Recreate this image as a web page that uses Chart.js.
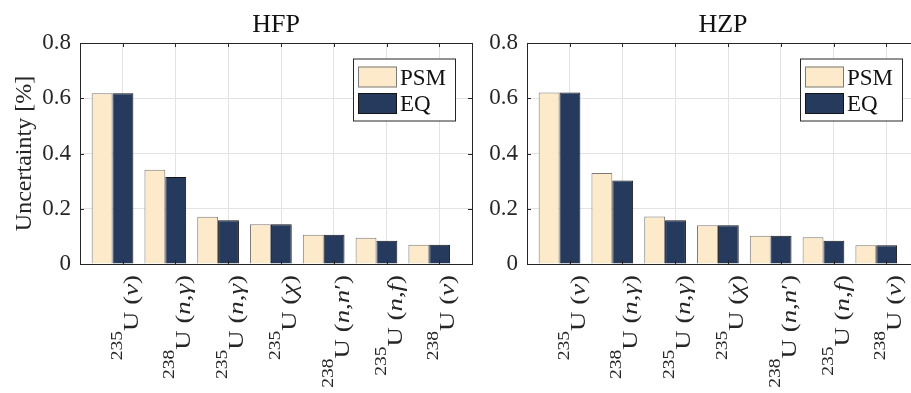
<!DOCTYPE html>
<html>
<head>
<meta charset="utf-8">
<script src="https://cdn.jsdelivr.net/npm/chart.js@4.4.1/dist/chart.umd.min.js"></script>
<style>
  html, body { margin: 0; padding: 0; background: #fff; overflow: hidden; width: 911px; height: 393px; }
  canvas { position: absolute; top: 0; }
  #hfp { left: 0; }
  #hzp { left: 447px; }
  #fontprobe { position: absolute; left: -999px; font-family: "Liberation Serif"; }
</style>
</head>
<body>
<span id="fontprobe">0.8 PSM <i>n</i></span>
<canvas id="hfp" width="480" height="393"></canvas>
<canvas id="hzp" width="480" height="393"></canvas>
<script>
// data
const nuclides = ["235", "238", "235", "235", "238", "235", "238"];
const reactions = ["ν", "n,γ", "n,γ", "χ", "n,n′", "n,f", "ν"];
const hfpPSM = [0.618, 0.341, 0.171, 0.144, 0.106, 0.095, 0.070];
const hfpEQ  = [0.618, 0.315, 0.158, 0.144, 0.106, 0.084, 0.070];
const hzpPSM = [0.621, 0.329, 0.172, 0.140, 0.102, 0.097, 0.068];
const hzpEQ  = [0.621, 0.302, 0.158, 0.140, 0.102, 0.084, 0.068];
const yTicks = [0, 0.2, 0.4, 0.6, 0.8];

const SERIF = '"Liberation Serif", "Times New Roman", Times, serif';
const INK = "#262626";
const GRID = "#e3e3e3";
const TICK_SHIFT = 0.193; // matlab ticks sit a bit right of the bar groups

function drawTickLabel(ctx, x, y, mass, reaction) {
  const parts = [
    { t: mass, font: `16px ${SERIF}`, dy: -1 },
    { t: "U", font: `22px ${SERIF}`, dy: 15 },
    { t: " ", font: `22px ${SERIF}`, dy: 15 },
    { t: "(", font: `22px ${SERIF}`, dy: 15 }
  ];
  for (const ch of reaction) {
    const italic = /[a-zA-Zα-ω]/.test(ch);
    parts.push({ t: ch, font: `${italic ? "italic " : ""}22px ${SERIF}`, dy: 15 });
  }
  parts.push({ t: ")", font: `22px ${SERIF}`, dy: 15 });

  ctx.save();
  let total = 0;
  parts.forEach(p => { ctx.font = p.font; p.w = ctx.measureText(p.t).width; total += p.w; });
  ctx.translate(x, y);
  ctx.rotate(-Math.PI / 2);
  ctx.scale(1.22, 1);
  ctx.fillStyle = INK;
  ctx.textAlign = "left";
  ctx.textBaseline = "alphabetic";
  let cx = -total;
  parts.forEach(p => { ctx.font = p.font; ctx.fillText(p.t, cx, p.dy); cx += p.w; });
  ctx.restore();
}

const panelPlugin = {
  id: "panel",
  afterDatasetsDraw(chart) {
    const { ctx, chartArea: a, scales } = chart;
    ctx.save();
    ctx.strokeStyle = INK;
    ctx.lineWidth = 1;
    // inward ticks
    ctx.beginPath();
    scales.x.ticks.forEach(t => {
      const px = Math.round(scales.x.getPixelForValue(t.value)) + 0.5;
      ctx.moveTo(px, a.top); ctx.lineTo(px, a.top + 4);
      ctx.moveTo(px, a.bottom); ctx.lineTo(px, a.bottom - 4);
    });
    scales.y.ticks.forEach(t => {
      const py = Math.round(scales.y.getPixelForValue(t.value)) + 0.5;
      ctx.moveTo(a.left, py); ctx.lineTo(a.left + 4, py);
      ctx.moveTo(a.right, py); ctx.lineTo(a.right - 4, py);
    });
    ctx.stroke();
    // box
    ctx.strokeRect(Math.round(a.left) + 0.5, Math.round(a.top) + 0.5,
      Math.round(a.right - a.left), Math.round(a.bottom - a.top));
    ctx.restore();
  },
  afterDraw(chart, args, opts) {
    const { ctx, chartArea: a, scales } = chart;

    // title
    ctx.save();
    ctx.fillStyle = "#111";
    ctx.font = `26px ${SERIF}`;
    ctx.textAlign = "center";
    ctx.textBaseline = "alphabetic";
    ctx.fillText(opts.title, (a.left + a.right) / 2, 32);
    ctx.restore();

    // legend
    const lx = a.left + 273, ly = 58.5, lw = 102, lh = 62;
    ctx.save();
    ctx.fillStyle = "#fff";
    ctx.fillRect(lx, ly, lw, lh);
    ctx.strokeStyle = INK;
    ctx.lineWidth = 1;
    ctx.strokeRect(lx + 0.5, ly + 0.5, lw, lh);
    chart.data.datasets.forEach((ds, i) => {
      const sy = ly + 8 + i * 26.5;
      ctx.fillStyle = ds.backgroundColor;
      ctx.fillRect(lx + 5, sy, 39, 21);
      ctx.strokeStyle = ds.borderColor;
      ctx.strokeRect(lx + 5.5, sy + 0.5, 38, 20);
      ctx.fillStyle = "#111";
      ctx.font = `23px ${SERIF}`;
      ctx.textAlign = "left";
      ctx.textBaseline = "alphabetic";
      ctx.fillText(ds.label, lx + 47, sy + 18);
    });
    ctx.restore();

    // rotated category labels
    scales.x.ticks.forEach((t, i) => {
      const px = scales.x.getPixelForValue(t.value);
      drawTickLabel(ctx, px, 275, nuclides[i], reactions[i]);
    });
  }
};

function makeChart(id, title, psm, eq, showYTitle) {
  return new Chart(document.getElementById(id), {
    type: "bar",
    data: {
      datasets: [
        {
          label: "PSM",
          data: psm.map((v, i) => ({ x: i + 1, y: v })),
          backgroundColor: "#FDEACB",
          borderColor: "#7a7a7a",
          borderWidth: 1
        },
        {
          label: "EQ",
          data: eq.map((v, i) => ({ x: i + 1, y: v })),
          backgroundColor: "#263A5E",
          borderColor: "#141414",
          borderWidth: 1
        }
      ]
    },
    options: {
      responsive: false,
      animation: false,
      categoryPercentage: 0.79,
      barPercentage: 1.0,
      layout: { padding: { top: 43, right: 8, left: 0, bottom: 0 } },
      plugins: {
        legend: { display: false },
        tooltip: { enabled: false },
        panel: { title }
      },
      scales: {
        x: {
          type: "linear",
          min: 0.384,
          max: 7.81,
          offset: false,
          grid: { color: GRID, drawTicks: false, offset: false },
          border: { display: false },
          ticks: { display: false },
          afterBuildTicks: s => { s.ticks = nuclides.map((_, i) => ({ value: i + 1 + TICK_SHIFT })); },
          afterFit: s => { s.height = 129; }
        },
        y: {
          min: 0,
          max: 0.8,
          grid: { color: GRID, drawTicks: false },
          border: { display: false },
          ticks: {
            padding: 9,
            color: INK,
            font: { family: SERIF, size: 23 },
            callback: v => String(v)
          },
          afterBuildTicks: s => { s.ticks = yTicks.map(v => ({ value: v })); },
          afterFit: s => { s.width = 80; },
          title: {
            display: showYTitle,
            text: "Uncertainty [%]",
            color: INK,
            font: { family: SERIF, size: 24 },
            padding: { top: 10, bottom: 0 }
          }
        }
      }
    },
    plugins: [panelPlugin]
  });
}

function build() {
  makeChart("hfp", "HFP", hfpPSM, hfpEQ, true);
  makeChart("hzp", "HZP", hzpPSM, hzpEQ, false);
}

Promise.all([
  document.fonts.load(`23px ${SERIF}`),
  document.fonts.load(`italic 22px ${SERIF}`)
]).then(build, build);
</script>
</body>
</html>
